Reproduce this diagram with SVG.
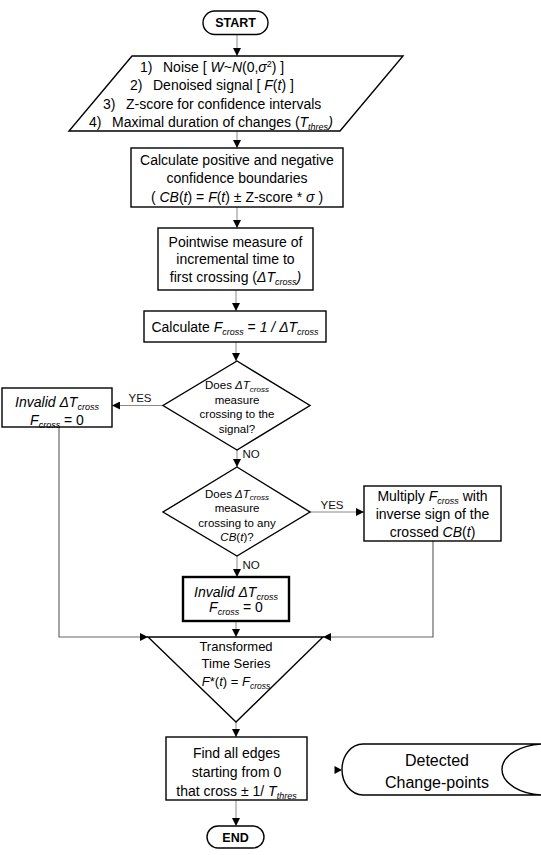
<svg xmlns="http://www.w3.org/2000/svg" width="541" height="855" viewBox="0 0 541 855">
<style>
  text { font-family: "Liberation Sans", Arial, sans-serif; fill: #000; }
  .t14 { font-size: 14px; text-anchor: middle; }
  .t13 { font-size: 13px; text-anchor: middle; }
  .t11 { font-size: 11.5px; text-anchor: middle; }
  .lbl { font-size: 11.5px; text-anchor: middle; fill: #111; }
  .i { font-style: italic; }
  .shape { fill: #fff; stroke: #000; stroke-width: 1.4; }
  .thick { fill: #fff; stroke: #000; stroke-width: 2.4; }
  .conn { fill: none; stroke: #8a8a8a; stroke-width: 1; }
  .merge { fill: none; stroke: #666; stroke-width: 1.2; }
</style>
<defs>
  <marker id="ah" viewBox="0 0 10 10" refX="10" refY="5" markerWidth="9" markerHeight="8" markerUnits="userSpaceOnUse" orient="auto">
    <path d="M0,0 L10,5 L0,10 z" fill="#000"/>
  </marker>
</defs>
<rect width="541" height="855" fill="#fff"/>

<g id="connectors">
  <path class="conn" d="M237,34 V56" marker-end="url(#ah)"/>
  <path class="conn" d="M237,131 V148" marker-end="url(#ah)"/>
  <path class="conn" d="M237,207 V228" marker-end="url(#ah)"/>
  <path class="conn" d="M236,290 V311" marker-end="url(#ah)"/>
  <path class="conn" d="M236,342 V361" marker-end="url(#ah)"/>
  <path class="conn" d="M163,405.5 H112" marker-end="url(#ah)"/>
  <path class="conn" d="M237,450 V467" marker-end="url(#ah)"/>
  <path class="conn" d="M310,512 H364" marker-end="url(#ah)"/>
  <path class="conn" d="M237,556 V577" marker-end="url(#ah)"/>
  <path class="merge" d="M59,427 V637 H148" marker-end="url(#ah)"/>
  <path class="merge" d="M433,541 V637 H323" marker-end="url(#ah)"/>
  <path class="conn" d="M236,621 V637" marker-end="url(#ah)"/>
  <path class="conn" d="M236,722 V737" marker-end="url(#ah)"/>
  <path class="conn" d="M236,800 V826" marker-end="url(#ah)"/>
  <polygon points="334.5,766 342,770 334.5,774" fill="#000"/>
  <text class="lbl" x="140" y="402">YES</text>
  <text class="lbl" x="251" y="458">NO</text>
  <text class="lbl" x="332" y="509">YES</text>
  <text class="lbl" x="251" y="569">NO</text>
</g>

<g id="start">
  <rect class="shape" x="203" y="11" width="65" height="23.5" rx="11.75"/>
  <text x="235.5" y="27" style="font-size:12.5px;font-weight:bold;text-anchor:middle">START</text>
</g>

<g id="inputs">
  <polygon class="shape" points="132,56 403,56 340,131 69,131"/>
  <text style="font-size:14px">
    <tspan x="140" y="72">1)</tspan><tspan x="163" y="72">Noise [ <tspan class="i">W</tspan>~<tspan class="i">N</tspan>(0,<tspan class="i">σ</tspan><tspan font-size="9" dy="-5">2</tspan><tspan dy="5">) ]</tspan></tspan>
    <tspan x="130" y="90">2)</tspan><tspan x="153" y="90">Denoised signal [ <tspan class="i">F</tspan>(<tspan class="i">t</tspan>) ]</tspan>
    <tspan x="103" y="109">3)</tspan><tspan x="126" y="109">Z-score for confidence intervals</tspan>
    <tspan x="89" y="127">4)</tspan><tspan x="112" y="127">Maximal duration of changes (<tspan class="i">T</tspan><tspan class="i" font-size="9" dy="3">thres</tspan><tspan class="i" dy="-3">)</tspan></tspan>
  </text>
</g>

<g id="boundaries">
  <rect class="shape" x="131" y="148" width="212" height="59"/>
  <text class="t14" x="237" y="165">Calculate positive and negative</text>
  <text class="t14" x="237" y="183">confidence boundaries</text>
  <text class="t14" x="237" y="202">( <tspan class="i">CB</tspan>(<tspan class="i">t</tspan>) = <tspan class="i">F</tspan>(<tspan class="i">t</tspan>) ± Z-score * <tspan class="i">σ</tspan> )</text>
</g>

<g id="pointwise">
  <rect class="shape" x="158" y="228" width="155" height="62"/>
  <text class="t14" x="235.5" y="246.5">Pointwise measure of</text>
  <text class="t14" x="235.5" y="264">incremental time to</text>
  <text class="t14" x="235.5" y="282">first crossing (<tspan class="i">ΔT</tspan><tspan class="i" font-size="9" dy="3">cross</tspan><tspan class="i" dy="-3">)</tspan></text>
</g>

<g id="fcross">
  <rect class="shape" x="144" y="311" width="182" height="31"/>
  <text class="t14" x="235" y="331.5">Calculate <tspan class="i">F</tspan><tspan class="i" font-size="9" dy="3">cross</tspan><tspan dy="-3"> = </tspan><tspan class="i">1 / ΔT</tspan><tspan class="i" font-size="9" dy="3">cross</tspan></text>
</g>

<g id="decision1">
  <polygon class="shape" points="237,361 310,405.5 237,450 163,405.5"/>
  <text class="t11" x="237" y="389">Does <tspan class="i">ΔT</tspan><tspan class="i" font-size="8" dy="2.5">cross</tspan></text>
  <text class="t11" x="237" y="403.5">measure</text>
  <text class="t11" x="237" y="418">crossing to the</text>
  <text class="t11" x="237" y="432.5">signal?</text>
</g>

<g id="invalid1">
  <rect class="shape" x="2" y="388" width="110" height="39"/>
  <text class="t14" x="57" y="406.5"><tspan class="i">Invalid ΔT</tspan><tspan class="i" font-size="9" dy="3">cross</tspan></text>
  <text class="t14" x="57" y="425"><tspan class="i">F</tspan><tspan class="i" font-size="9" dy="3">cross</tspan><tspan dy="-3"> = 0</tspan></text>
</g>

<g id="decision2">
  <polygon class="shape" points="237,467 310,512 237,556 163,512"/>
  <text class="t11" x="237" y="497.5">Does <tspan class="i">ΔT</tspan><tspan class="i" font-size="8" dy="2.5">cross</tspan></text>
  <text class="t11" x="237" y="512">measure</text>
  <text class="t11" x="237" y="526.5">crossing to any</text>
  <text class="t11" x="237" y="541"><tspan class="i">CB</tspan>(<tspan class="i">t</tspan>)?</text>
</g>

<g id="multiply">
  <rect class="shape" x="364" y="486" width="137" height="55"/>
  <text class="t14" x="432.5" y="501">Multiply <tspan class="i">F</tspan><tspan class="i" font-size="9" dy="3">cross</tspan><tspan dy="-3"> with</tspan></text>
  <text class="t14" x="432.5" y="518.5">inverse sign of the</text>
  <text class="t14" x="432.5" y="536.5">crossed <tspan class="i">CB</tspan>(<tspan class="i">t</tspan>)</text>
</g>

<g id="invalid2">
  <rect class="thick" x="183" y="577" width="106" height="44"/>
  <text class="t14" x="236" y="596.5"><tspan class="i">Invalid ΔT</tspan><tspan class="i" font-size="9" dy="3">cross</tspan></text>
  <text class="t14" x="236" y="612"><tspan class="i">F</tspan><tspan class="i" font-size="9" dy="3">cross</tspan><tspan dy="-3"> = 0</tspan></text>
</g>

<g id="transformed">
  <polygon class="shape" points="148,637 323,637 236,722"/>
  <text class="t13" x="236" y="651">Transformed</text>
  <text class="t13" x="236" y="668">Time Series</text>
  <text class="t13" x="236" y="685.5"><tspan class="i">F</tspan>*(<tspan class="i">t</tspan>) = <tspan class="i">F</tspan><tspan class="i" font-size="8.5" dy="3">cross</tspan></text>
</g>

<g id="edges">
  <rect class="shape" x="166" y="737" width="141" height="63"/>
  <text class="t14" x="236.5" y="757.5">Find all edges</text>
  <text class="t14" x="236.5" y="776.5">starting from 0</text>
  <text class="t14" x="236.5" y="795.5">that cross ± 1/ <tspan class="i">T</tspan><tspan class="i" font-size="9" dy="3">thres</tspan></text>
</g>

<g id="end">
  <rect class="shape" x="207" y="826" width="57" height="22" rx="11"/>
  <text x="235.5" y="841.5" style="font-size:12.5px;font-weight:bold;text-anchor:middle">END</text>
</g>

<g id="detected">
  <path class="shape" d="M363,744 L545,744 A43,25.5 0 0 0 545,795 L363,795 A21,25.5 0 0 1 363,744 Z"/>
  <text x="437" y="765.5" style="font-size:16px;text-anchor:middle">Detected</text>
  <text x="437" y="787.5" style="font-size:16px;text-anchor:middle">Change-points</text>
</g>
</svg>
